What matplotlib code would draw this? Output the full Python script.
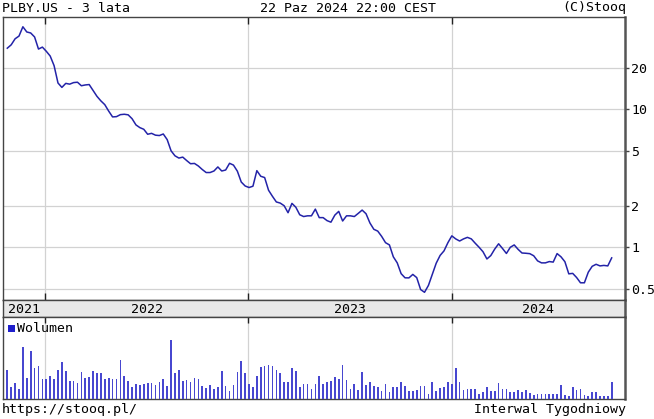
import matplotlib
matplotlib.use('Agg')
import matplotlib.pyplot as plt
import matplotlib.dates as mdates
from matplotlib.patches import Rectangle
import pandas as pd

# ---------------- data ----------------
start_date = '2021-10-25'
price = [
    27.7, 29.3, 32.4, 33.9, 39.6, 36.3, 35.7, 33.4, 27.3, 28.2,
    26.3, 24.3, 20.7, 15.5, 14.4, 15.4, 15.2, 15.6, 15.7, 14.8,
    15.0, 15.1, 13.7, 12.4, 11.5, 10.8, 9.70, 8.80, 8.84, 9.14,
    9.20, 9.11, 8.54, 7.70, 7.36, 7.16, 6.59, 6.69, 6.49, 6.45,
    6.62, 6.03, 5.00, 4.60, 4.43, 4.50, 4.25, 4.03, 4.05, 3.88,
    3.66, 3.48, 3.48, 3.57, 3.82, 3.57, 3.63, 4.06, 3.94, 3.56,
    2.97, 2.78, 2.71, 2.77, 3.59, 3.27, 3.20, 2.59, 2.34, 2.13,
    2.09, 2.00, 1.78, 2.08, 1.95, 1.72, 1.67, 1.69, 1.69, 1.89,
    1.64, 1.64, 1.56, 1.52, 1.71, 1.82, 1.55, 1.69, 1.69, 1.67,
    1.76, 1.86, 1.75, 1.50, 1.35, 1.31, 1.20, 1.08, 1.04, 0.853,
    0.771, 0.644, 0.601, 0.600, 0.636, 0.603, 0.494, 0.472, 0.529, 0.638,
    0.767, 0.873, 0.942, 1.08, 1.21, 1.15, 1.11, 1.15, 1.18, 1.15,
    1.07, 1.00, 0.928, 0.823, 0.871, 0.970, 1.06, 0.980, 0.902, 1.00,
    1.04, 0.966, 0.909, 0.905, 0.899, 0.868, 0.797, 0.771, 0.771, 0.788,
    0.781, 0.900, 0.853, 0.786, 0.642, 0.647, 0.604, 0.553, 0.553, 0.660,
    0.728, 0.753, 0.733, 0.739, 0.733, 0.838,
]
volume = [  # millions of shares
    2.93, 1.17, 1.60, 1.00, 5.23, 2.07, 4.77, 3.07, 3.27, 2.00,
    2.00, 2.33, 2.00, 2.93, 3.67, 2.83, 1.83, 1.83, 1.60, 2.73,
    2.07, 2.23, 2.83, 2.60, 2.60, 2.00, 2.07, 2.00, 2.00, 3.93,
    2.33, 1.83, 1.17, 1.50, 1.40, 1.50, 1.60, 1.57, 1.40, 1.67,
    2.00, 1.33, 5.93, 2.60, 2.93, 1.83, 1.93, 1.73, 2.07, 2.00,
    1.27, 1.07, 1.40, 1.00, 1.17, 2.83, 1.27, 0.83, 1.40, 2.73,
    3.77, 2.60, 1.50, 1.23, 2.27, 3.17, 3.33, 3.40, 3.33, 2.93,
    2.60, 1.67, 1.67, 3.07, 2.83, 1.23, 1.50, 1.50, 1.00, 1.50,
    2.33, 1.50, 1.73, 1.83, 2.17, 2.00, 3.40, 1.90, 1.00, 1.50,
    0.93, 2.73, 1.40, 1.73, 1.27, 1.23, 0.83, 1.50, 0.67, 1.17,
    1.23, 1.67, 1.33, 0.83, 0.83, 0.93, 1.33, 1.27, 0.50, 1.73,
    0.83, 1.10, 1.17, 1.73, 1.50, 3.07, 1.73, 0.90, 1.00, 1.00,
    1.00, 0.50, 0.67, 1.23, 0.83, 0.83, 1.60, 1.00, 1.00, 0.73,
    0.73, 0.93, 0.73, 0.90, 0.60, 0.40, 0.50, 0.50, 0.50, 0.50,
    0.50, 0.50, 1.40, 0.40, 0.27, 1.17, 0.90, 1.00, 0.40, 0.27,
    0.67, 0.67, 0.27, 0.27, 0.27, 1.73,
]
y_ticks = [0.5, 1, 2, 5, 10, 20]
y_tick_labels = ['0.5', '1', '2', '5', '10', '20']
year_bounds = ['2022-01-01', '2023-01-01', '2024-01-01']
year_labels = ['2021', '2022', '2023', '2024']
title_left = 'PLBY.US - 3 lata'
title_mid = '22 Paz 2024 22:00 CEST'
title_right = '(C)Stooq'
foot_left = 'https://stooq.pl/'
foot_right = 'Interwal Tygodniowy'
legend_label = 'Wolumen'

dates = pd.date_range(start_date, periods=len(price), freq='7D')

# ---------------- figure ----------------
W, H = 654, 419
FONT = 'DejaVu Sans Mono'
FS = 9.5
plt.rcParams['font.family'] = FONT

fig = plt.figure(figsize=(W / 100, H / 100), dpi=100)
fig.patch.set_facecolor('white')


def rect(x0, y0, x1, y1):
    return [x0 / W, 1 - y1 / H, (x1 - x0) / W, (y1 - y0) / H]


L, R = 2.5, 624.5
ax = fig.add_axes(rect(L, 17, R, 300))
band = fig.add_axes(rect(L, 300, R, 317))
axv = fig.add_axes(rect(L, 317, R, 399))

xl = dates[0] - pd.Timedelta(days=8.6)
xr = dates[-1] + pd.Timedelta(days=23)
bounds = [pd.Timestamp(b) for b in year_bounds]

spine_c = '#444444'
grid_c = '#d2d2d2'
line_c = '#2323a8'
bar_c = '#4747d0'

# main price panel
ax.plot(dates, price, color=line_c, lw=1.1, zorder=3)
ax.set_yscale('log')
ax.set_ylim(0.415, 46.6)
ax.set_xlim(xl, xr)
ax.yaxis.tick_right()
ax.set_yticks(y_ticks)
ax.set_yticklabels(y_tick_labels)
ax.yaxis.set_minor_locator(matplotlib.ticker.NullLocator())
ax.tick_params(axis='y', which='major', direction='out', length=3,
               width=1, color=spine_c, labelsize=FS, pad=2)
ax.set_xticks(bounds)
ax.set_xticklabels([])
ax.tick_params(axis='x', direction='in', length=5, width=1, color='#222222',
               top=True, bottom=True)
ax.grid(True, which='major', color=grid_c, lw=0.9)
ax.set_axisbelow(True)
for s in ax.spines.values():
    s.set_color(spine_c)
    s.set_linewidth(1.0)
ax.spines['right'].set_linewidth(1.8)
ax.spines['right'].set_color('#555555')

# year band
band.set_xlim(xl, xr)
band.set_ylim(0, 1)
band.set_facecolor('#e8e8e8')
band.set_xticks([])
band.set_yticks([])
for s in band.spines.values():
    s.set_color(spine_c)
    s.set_linewidth(1.0)
band.spines['right'].set_linewidth(1.8)
band.spines['right'].set_color('#555555')
edges = [xl] + bounds + [xr]
for lab, a, b in zip(year_labels, edges[:-1], edges[1:]):
    mid = a + (b - a) / 2
    band.text(mid, 0.45, lab, ha='center', va='center', fontsize=FS,
              color='black')

# volume panel
axv.bar(dates, volume, width=3.0, color=bar_c, zorder=3)
axv.set_xlim(xl, xr)
axv.set_ylim(0, 8.2)
axv.set_yticks([])
axv.set_xticks(bounds)
axv.set_xticklabels([])
axv.tick_params(axis='x', direction='in', length=4, width=1, color='#222222',
                top=True, bottom=False)
axv.grid(True, axis='x', color=grid_c, lw=0.9)
axv.set_axisbelow(True)
for s in axv.spines.values():
    s.set_color(spine_c)
    s.set_linewidth(1.0)
axv.spines['right'].set_linewidth(1.8)
axv.spines['right'].set_color('#555555')

# legend for volume
fig.patches.append(Rectangle((8 / W, 1 - 332 / H), 7 / W, 7 / H,
                             transform=fig.transFigure, facecolor='#1f1fcc',
                             edgecolor='none'))
fig.text(17 / W, 1 - 328 / H, legend_label, ha='left', va='center',
         fontsize=FS)

# header / footer
fig.text(2 / W, 1 - 8 / H, title_left, ha='left', va='center', fontsize=FS)
fig.text(260 / W, 1 - 8 / H, title_mid, ha='left', va='center', fontsize=FS)
fig.text(626 / W, 1 - 8 / H, title_right, ha='right', va='center', fontsize=FS)
fig.text(2 / W, 1 - 409 / H, foot_left, ha='left', va='center', fontsize=FS)
fig.text(626 / W, 1 - 409 / H, foot_right, ha='right', va='center', fontsize=FS)

fig.savefig('out.png', dpi=100)
